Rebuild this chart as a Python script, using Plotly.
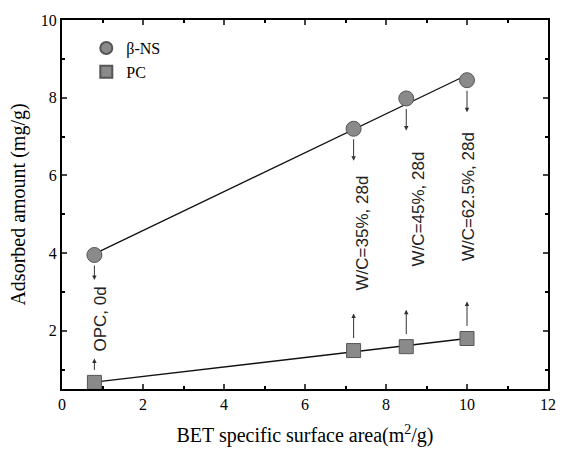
import numpy as np
import plotly.graph_objects as go

# Data
bet_area = [0.8, 7.2, 8.5, 10.0]
beta_ns = [3.95, 7.2, 7.98, 8.45]
pc = [0.67, 1.49, 1.59, 1.80]
labels = ["OPC, 0d", "W/C=35%, 28d", "W/C=45%, 28d", "W/C=62.5%, 28d"]
label_y = [2.3, 4.52, 5.13, 5.44]
label_xshift = [6, 9, 12, 1]

serif = "Liberation Serif, Times New Roman, serif"
sans = "Liberation Sans, Arial, sans-serif"

fig = go.Figure()

# fitted lines
for ys in (beta_ns, pc):
    k, b = np.polyfit(bet_area, ys, 1)
    xs = [bet_area[0], bet_area[-1]]
    fig.add_trace(go.Scatter(x=xs, y=[k * v + b for v in xs], mode="lines",
                             line=dict(color="#111", width=1.3), showlegend=False,
                             hoverinfo="skip"))

fig.add_trace(go.Scatter(x=bet_area, y=beta_ns, mode="markers", name="\u03b2-NS",
                         marker=dict(symbol="circle", size=15, color="#8a8a8a",
                                     line=dict(color="#555", width=1))))
fig.add_trace(go.Scatter(x=bet_area, y=pc, mode="markers", name="PC",
                         marker=dict(symbol="square", size=14, color="#8a8a8a",
                                     line=dict(color="#555", width=1))))

annotations = []
for i, (x, yc, ys) in enumerate(zip(bet_area, beta_ns, pc)):
    # down arrow below circle
    dn_len = 16 if i == 0 else 23
    annotations.append(dict(x=x, y=yc, xref="x", yref="y", text="", showarrow=True,
                            ax=0, ay=-dn_len, yshift=-(9 + dn_len), arrowhead=2, arrowsize=0.9,
                            arrowwidth=1, arrowcolor="#333"))
    # up arrow above square
    up_len = 13 if i == 0 else 26
    annotations.append(dict(x=x, y=ys, xref="x", yref="y", text="", showarrow=True,
                            ax=0, ay=up_len, yshift=11 + up_len, arrowhead=2, arrowsize=0.9,
                            arrowwidth=1, arrowcolor="#333"))
    annotations.append(dict(x=x, y=label_y[i], xref="x", yref="y", text=labels[i],
                            showarrow=False, textangle=-90, xshift=label_xshift[i],
                            font=dict(family=sans, size=17, color="#222")))

fig.update_layout(
    width=568, height=459,
    margin=dict(l=62, r=12, t=14, b=70),
    paper_bgcolor="white", plot_bgcolor="white",
    font=dict(family=serif, color="black"),
    annotations=annotations,
    legend=dict(x=0.05, y=0.97, xanchor="left", yanchor="top", bgcolor="rgba(0,0,0,0)",
                font=dict(family=serif, size=16), itemsizing="constant", tracegroupgap=0),
)
fig.update_xaxes(range=[0, 12], dtick=2, ticks="inside", ticklen=5, tickwidth=1.5,
                 showline=True, linewidth=2, linecolor="black", mirror="allticks",
                 showgrid=False, zeroline=False,
                 minor=dict(dtick=1, ticks="inside", ticklen=3, tickcolor="black"),
                 tickfont=dict(family=serif, size=16),
                 title=dict(text="BET specific surface area(m<sup>2</sup>/g)",
                            font=dict(family=serif, size=20), standoff=16))
fig.update_yaxes(range=[0.5, 10], tickvals=[2, 4, 6, 8, 10], ticks="inside", ticklen=5,
                 tickwidth=1.5, showline=True, linewidth=2, linecolor="black",
                 mirror="allticks", showgrid=False, zeroline=False,
                 minor=dict(tickvals=[1, 3, 5, 7, 9], ticks="inside", ticklen=3,
                            tickcolor="black"),
                 tickfont=dict(family=serif, size=16),
                 title=dict(text="Adsorbed amount (mg/g)",
                            font=dict(family=serif, size=20), standoff=10))

fig.write_html("out.html")
